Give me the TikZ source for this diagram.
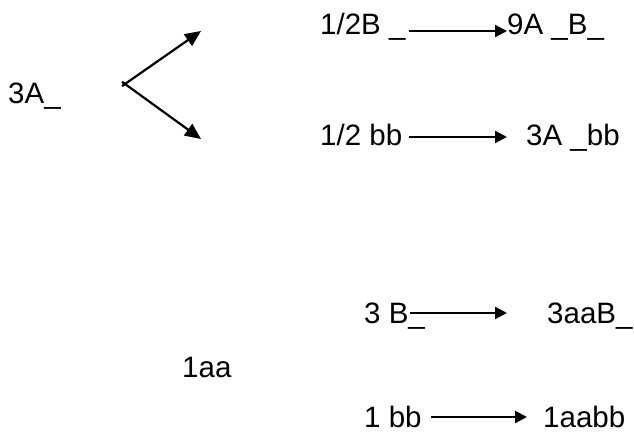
\documentclass[tikz,border=0pt]{standalone}
\usepackage{fontspec}
\setmainfont{Liberation Sans}
\usetikzlibrary{arrows.meta}
\tikzset{term/.style={anchor=base west,inner sep=0pt,text depth=0pt,font=\fontsize{29.5}{34}\selectfont},
 react/.style={line width=2.2pt,-{Triangle[length=12pt,width=12pt]}},
 branch/.style={line width=2.2pt,-{Triangle[length=16pt,width=14pt]}},
 }

\begin{document}
\begin{tikzpicture}[x=1pt,y=-1pt]
        \useasboundingbox (0,0) rectangle (634,433);
        % parent and its two branches
        \node[term] (parent) at (8,103) {3A\_};
        \coordinate (fork) at (125,84);
        \coordinate (upTip) at (201,31);
        \coordinate (downTip) at (201,139);
        \draw[branch] ([shift={(-3,2.1)}]fork) -- (upTip);
        \draw[branch] ([shift={(-3,-2.2)}]fork) -- (downTip);
        % upper pair
        \node[term] (lhsA) at (320,35) {1/2B \_};
        \node[term] (rhsA) at (507,35) {9A \_B\_};
        \draw[react] ([shift={(3,-4)}]lhsA.base east) -- ([shift={(0,-4)}]rhsA.base west);
        \node[term] (lhsB) at (320,146) {1/2 bb};
        \node[term] (rhsB) at (526,146) {3A \_bb};
        \draw[react] ([shift={(7,-9)}]lhsB.base east) -- ([shift={(-19,-9)}]rhsB.base west);
        % lower pair
        \node[term] (lhsC) at (364,323) {3 B\_};
        \node[term] (rhsC) at (547,323) {3aaB\_};
        \draw[react] ([shift={(-15,-10)}]lhsC.base east) -- ([shift={(-40,-10)}]rhsC.base west);
        \node[term] (single) at (182,377) {1aa};
        \node[term] (lhsD) at (364,427) {1 bb};
        \node[term] (rhsD) at (543,427) {1aabb};
        \draw[react] ([shift={(9,-10)}]lhsD.base east) -- ([shift={(-16,-10)}]rhsD.base west);
\end{tikzpicture}
\end{document}
